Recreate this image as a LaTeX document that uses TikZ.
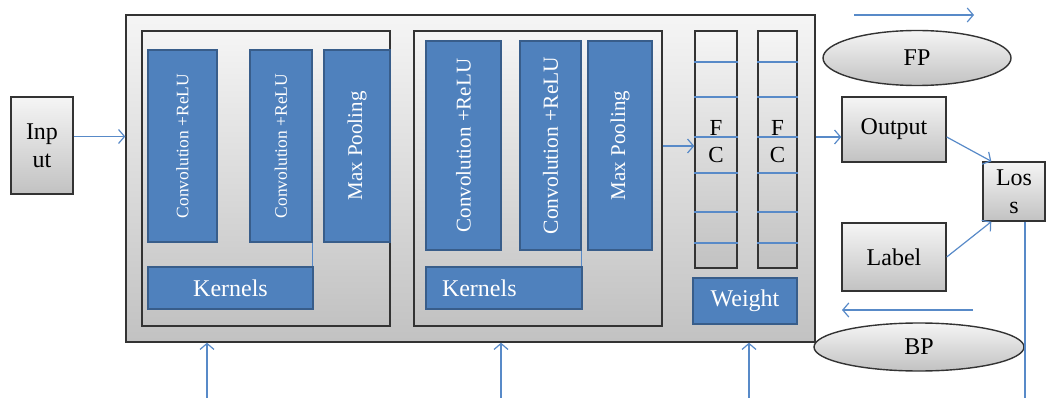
\documentclass[tikz,border=0pt]{standalone}
\usepackage{fontspec}
\setmainfont{Liberation Serif}
\usetikzlibrary{shapes,arrows.meta}
\definecolor{boxblue}{RGB}{79,129,189}
\definecolor{boxedge}{RGB}{56,93,138}
\definecolor{linkblue}{RGB}{88,138,200}

\begin{document}
\begin{tikzpicture}[x=1pt,y=-1pt,
  graybox/.style={draw=black!80, line width=1.4pt, top color=gray!8, bottom color=gray!48, inner sep=0pt, align=center, font=\fontsize{24}{28}\selectfont},
  bluebox/.style={draw=boxedge, line width=1.3pt, fill=boxblue, text=white, inner sep=0pt, align=center, font=\fontsize{24}{28}\selectfont},
  fcbox/.style={graybox, minimum height=237pt},
  link/.style={draw=linkblue, line width=1.2pt},
  arr/.style={link, -{Straight Barb[length=6pt,width=14pt]}},
]
\useasboundingbox (0,0) rectangle (1046,398);
\node[graybox, minimum width=689pt, minimum height=327pt] (outer) at (470.5,178.5) {};
\node[graybox, minimum width=248pt, minimum height=295pt] (blk1) at (266,178.5) {};
\node[graybox, minimum width=248pt, minimum height=295pt] (blk2) at (538,178.5) {};
\node[bluebox, minimum width=69pt, minimum height=192pt] (c1) at (182.5,146) {\rotatebox{90}{\fontsize{17.5}{20}\selectfont Convolution +ReLU}};
\node[bluebox, minimum width=62pt, minimum height=192pt] (c2) at (281,146) {\rotatebox{90}{\fontsize{17.5}{20}\selectfont Convolution +ReLU}};
\node[bluebox, minimum width=66pt, minimum height=192pt] (mp1) at (357,146) {\rotatebox{90}{\fontsize{21}{24}\selectfont Max Pooling}};
\node[bluebox, minimum width=165pt, minimum height=42pt] (k1) at (230.5,288) {Kernels};
\node[bluebox, minimum width=75pt, minimum height=209pt] (c3) at (463.5,145.5) {\rotatebox{90}{\fontsize{21}{24}\selectfont Convolution +ReLU}};
\node[bluebox, minimum width=61pt, minimum height=209pt] (c4) at (550.5,145.5) {\rotatebox{90}{\fontsize{21.5}{24}\selectfont Convolution +ReLU}};
\node[bluebox, minimum width=64pt, minimum height=209pt] (mp2) at (620,145.5) {\rotatebox{90}{\fontsize{21}{24}\selectfont Max Pooling}};
\node[bluebox, minimum width=156pt, minimum height=42pt, text width=124pt, align=left] (k2) at (504,288) {Kernels};
\draw[link] (c2.south east) -- (c2.south east |- k1.north);
\draw[link] (c4.south east) -- (c4.south east |- k2.north);
\node[fcbox, minimum width=42pt] (fc1) at (716,149.5) {};
\node[fcbox, minimum width=39pt] (fc2) at (777.5,149.5) {};
\foreach \y in {62,97,137,173,212,243} {
  \draw[link] (fc1.west |- 0,\y) -- (fc1.east |- 0,\y);
  \draw[link] (fc2.west |- 0,\y) -- (fc2.east |- 0,\y);
}
\node[align=center, font=\fontsize{23}{27}\selectfont] (fc1t) at ([yshift=8pt]fc1.center) {F\\C};
\node[align=center, font=\fontsize{23}{27}\selectfont] (fc2t) at ([yshift=8pt]fc2.center) {F\\C};
\node[bluebox, minimum width=104pt, minimum height=46pt] (wt) at (745,301) {Weight};
\node[graybox, minimum width=62pt, minimum height=97pt] (inp) at (42,145.5) {Inp\\ut};
\node[graybox, minimum width=104pt, minimum height=65pt] (out) at (894,129.5) {Output};
\node[graybox, minimum width=104pt, minimum height=68pt] (lab) at (894,257) {Label};
\node[graybox, minimum width=62pt, minimum height=59pt] (loss) at (1014,191.5) {Los\\s};
\node[graybox, ellipse, minimum width=188pt, minimum height=55pt] (fp) at (917,58) {FP};
\node[graybox, ellipse, minimum width=210pt, minimum height=48pt] (bp) at (919,347) {BP};
\coordinate (fps) at (854,15);
\coordinate (fpe) at (974,15);
\coordinate (bps) at (973,310);
\coordinate (bpe) at (842,310);
\coordinate (lend) at (1025,398);
\coordinate (u1) at (207,398);
\coordinate (u2) at (501,398);
\coordinate (u3) at (749,398);
\draw[arr] ([yshift=9pt]inp.east) -- ([yshift=9pt]inp.east -| outer.west);
\draw[arr] (blk2.east |- 0,146) -- (fc1.west |- 0,146);
\draw[arr] ([yshift=-7.5pt]out.west -| outer.east) -- ([yshift=-7.5pt]out.west);
\draw[arr] ([yshift=-7.5pt]out.east) -- ([xshift=9pt]loss.north west);
\draw[arr] (lab.east) -- ([xshift=9pt]loss.south west);
\draw[link] (loss.south -| lend) -- (lend);
\draw[arr] (fps) -- (fpe);
\draw[arr] (bps) -- (bpe);
\foreach \u in {u1,u2,u3}
  \draw[arr] (\u) -- (\u |- outer.south);
\end{tikzpicture}
\end{document}
